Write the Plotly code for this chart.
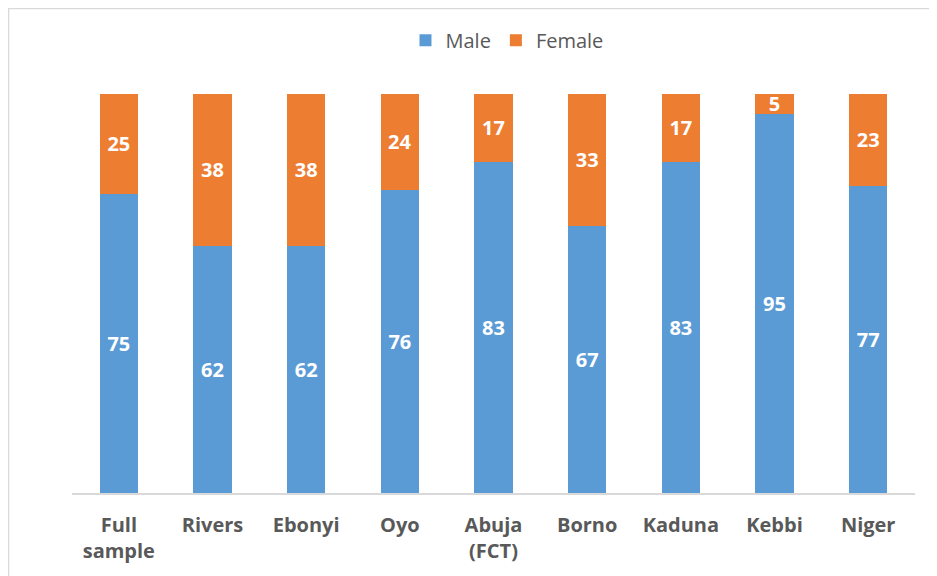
import plotly.graph_objects as go

categories = ["Full<br>sample", "Rivers", "Ebonyi", "Oyo", "Abuja<br>(FCT)", "Borno", "Kaduna", "Kebbi", "Niger"]
male = [75, 62, 62, 76, 83, 67, 83, 95, 77]
female = [25, 38, 38, 24, 17, 33, 17, 5, 23]

FONT = "Open Sans"
fig = go.Figure()
fig.add_trace(go.Bar(x=categories, y=male, name="Male", marker=dict(color="#5B9BD5", line=dict(width=0)),
                     text=male, textposition="inside", insidetextanchor="middle", constraintext="none",
                     textfont=dict(color="white", size=20, family=FONT, weight="bold"),
                     textangle=0))
fig.add_trace(go.Bar(x=categories, y=female, name="Female", marker=dict(color="#ED7D31", line=dict(width=0)),
                     text=female, textposition="inside", insidetextanchor="middle", constraintext="none",
                     textfont=dict(color="white", size=20, family=FONT, weight="bold"),
                     textangle=0))

fig.update_layout(
    barmode="stack",
    bargap=0.59,
    width=929, height=568,
    margin=dict(l=64, r=22, t=86, b=83, autoexpand=False),
    paper_bgcolor="white", plot_bgcolor="white",
    legend=dict(orientation="h", x=0.516, xanchor="center", y=1.135, yanchor="middle",
                bgcolor="rgba(0,0,0,0)",
                font=dict(family=FONT, size=20, color="#595959"), itemwidth=30, traceorder="normal"),
    xaxis=dict(showline=True, linecolor="#D9D9D9", linewidth=2, ticks="outside", ticklen=13,
               tickcolor="rgba(0,0,0,0)",
               tickfont=dict(family=FONT, size=20, color="#595959", weight="bold"), fixedrange=True),
    yaxis=dict(range=[0, 100], visible=False, showgrid=False),
    shapes=[dict(type="rect", xref="paper", yref="paper", x0=-0.0753, x1=1.1, y0=-0.3, y1=1.214,
                 line=dict(color="#D9D9D9", width=1.5), fillcolor="rgba(0,0,0,0)", layer="below")],
    showlegend=True,
)
fig.write_html("out.html")
